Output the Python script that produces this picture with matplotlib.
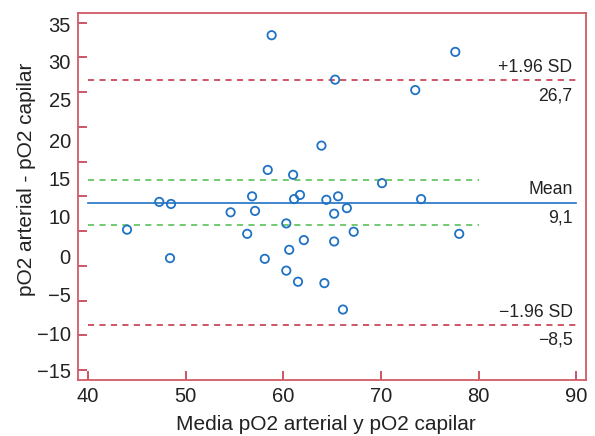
import matplotlib.pyplot as plt
import numpy as np

plt.rcParams['font.family'] = ['Liberation Sans', 'DejaVu Sans']

# Bland-Altman data: mean of both methods vs difference
media = [63.9, 58.4, 61.0, 56.8, 61.7, 61.1, 64.4, 65.6, 54.6, 57.1, 66.5,
         65.2, 60.3, 56.3, 62.1, 65.2, 67.2, 60.6, 58.1, 60.3, 61.5, 64.2,
         66.1, 44.0, 47.3, 48.5, 48.4, 58.8, 65.3, 70.1, 77.6, 73.5, 74.1,
         78.0]
diferencia = [17.3, 13.8, 13.1, 10.0, 10.2, 9.6, 9.5, 10.0, 7.7, 7.9, 8.3,
              7.5, 6.1, 4.6, 3.7, 3.5, 4.9, 2.3, 1.0, -0.7, -2.3, -2.5,
              -6.3, 5.2, 9.2, 8.9, 1.1, 33.2, 26.8, 11.9, 30.8, 25.3, 9.6,
              4.6]

mean_diff = 9.1
sd_upper = 26.7
sd_lower = -8.5
ci_upper = 12.35
ci_lower = 5.85

y_ticks = list(range(-15, 36, 5))
# tick labels as printed in the figure (slightly off the tick marks)
y_label_pos = [34.8, 29.4, 23.9, 18.1, 12.6, 7.1, 1.3, -4.2, -9.7, -15.1]
y_label_txt = ['35', '30', '25', '20', '15', '10', '0', '\u22125', '\u221210', '\u221215']
x_ticks = [40, 50, 60, 70, 80, 90]

red = '#c0283c'
spine_red = '#d05a66'
blue = '#1f72c4'
green = '#4cbb4c'

fig = plt.figure(figsize=(5.95, 4.36), dpi=100)
ax = fig.add_axes([0.1306, 0.1284, 0.8538, 0.8418])

ax.plot([40, 90], [sd_upper, sd_upper], color=red, lw=1.1, ls=(0, (4, 3.5)))
ax.plot([40, 90], [sd_lower, sd_lower], color=red, lw=1.1, ls=(0, (4, 3.5)))
ax.plot([40, 80], [ci_upper, ci_upper], color=green, lw=1.1, ls=(0, (4, 3.5)))
ax.plot([40, 80], [ci_lower, ci_lower], color=green, lw=1.1, ls=(0, (4, 3.5)))
ax.plot([40, 90], [mean_diff, mean_diff], color=blue, lw=1.2)

ax.scatter(media, diferencia, s=36, facecolors='none', edgecolors=blue,
           linewidths=1.3, zorder=3)

tx = 89.6
for yv, top_txt, bot_txt in [(sd_upper, '+1.96 SD', '26,7'),
                             (mean_diff, 'Mean', '9,1'),
                             (sd_lower, '\u22121.96 SD', '\u22128,5')]:
    ax.annotate(top_txt, (tx, yv), xytext=(0, 3), textcoords='offset points',
                ha='right', va='bottom', fontsize=12.7, color='#222222')
    ax.annotate(bot_txt, (tx, yv), xytext=(0, -5), textcoords='offset points',
                ha='right', va='top', fontsize=12.7, color='#222222')

ax.set_xlim(38.95, 90.95)
ax.set_ylim(-16.45, 36.4)

ax.set_xticks(x_ticks)
ax.set_xticklabels([str(v) for v in x_ticks])
ax.set_yticks(y_ticks)
ax.set_yticklabels([])
ax.set_yticks(y_label_pos, y_label_txt, minor=True)

ax.tick_params(axis='both', which='major', direction='in', length=6.3,
               width=1.1, color=red, labelsize=14.5, labelcolor='#222222')
ax.tick_params(axis='x', which='major', pad=5)
ax.tick_params(axis='y', which='minor', length=0, pad=5, labelsize=14.5,
               labelcolor='#222222')
ax.tick_params(axis='x', which='minor', length=0)

for sp in ax.spines.values():
    sp.set_color(spine_red)
    sp.set_linewidth(1.3)

fig.text(0.548, 0.004, 'Media pO2 arterial y pO2 capilar', ha='center',
         va='bottom', fontsize=15, color='#222222')
fig.text(0.045, 0.589, 'pO2 arterial - pO2 capilar', ha='center', va='center',
         rotation=90, fontsize=15, color='#222222')

plt.savefig('out.png', dpi=100)
